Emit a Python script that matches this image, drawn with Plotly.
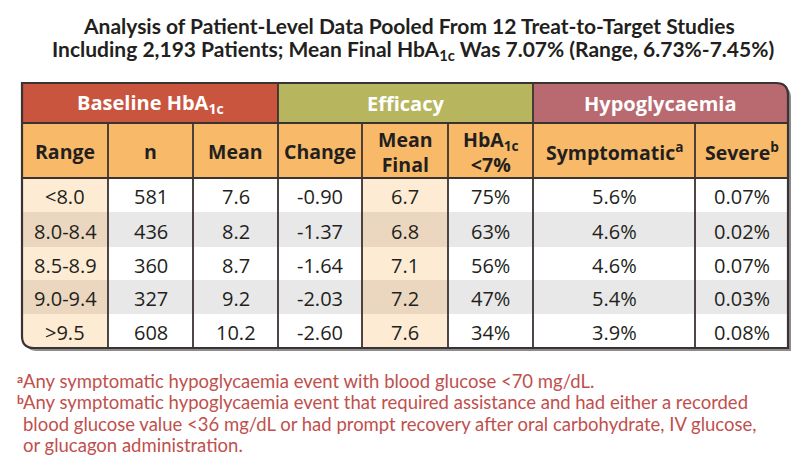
import plotly.graph_objects as go

# ---------------- data ----------------
title_lines = ["Analysis of Patient-Level Data Pooled From 12 Treat-to-Target Studies",
               "Including 2,193 Patients; Mean Final HbA<sub>1c</sub> Was 7.07% (Range, 6.73%-7.45%)"]
groups = ["Baseline HbA<sub>1c</sub>", "Efficacy", "Hypoglycaemia"]
columns = ["Range", "n", "Mean", "Change", "Mean<br>Final", "HbA<sub>1c</sub><br><7%",
           "Symptomatic<sup>a</sup>", "Severe<sup>b</sup>"]
ranges = ["<8.0", "8.0-8.4", "8.5-8.9", "9.0-9.4", ">9.5"]
n_patients = [581, 436, 360, 327, 608]
baseline_mean = [7.6, 8.2, 8.7, 9.2, 10.2]
change = [-0.90, -1.37, -1.64, -2.03, -2.60]
mean_final = [6.7, 6.8, 7.1, 7.2, 7.6]
pct_below7 = [75, 63, 56, 47, 34]
symptomatic = [5.6, 4.6, 4.6, 5.4, 3.9]
severe = [0.07, 0.02, 0.07, 0.03, 0.08]
footnotes = [
    ("a", ["Any symptomatic hypoglycaemia event with blood glucose <70 mg/dL."]),
    ("b", ["Any symptomatic hypoglycaemia event that required assistance and had either a recorded",
           "blood glucose value <36 mg/dL or had prompt recovery after oral carbohydrate, IV glucose,",
           "or glucagon administration."]),
]

# ---------------- layout geometry ----------------
W, H = 802, 473
col_x = [22, 108, 193, 278, 362, 448, 533, 695, 788]
group_x = [22, 278, 533, 788]
y_top, y_grp, y_hdr = 83, 123, 178
row_y = [178, 212, 247, 280, 314, 348]
R = 12

group_colors = ["#C9553F", "#B8B55F", "#B86A70"]
hdr_fill = "#F8BA68"
line_col = "#3b3232"
txt_col = "#231f20"
hdr_font = "Open Sans"
body_font = "Open Sans"
title_font = "Lato"
fn_font = "Lato"

cells = [
    [str(v) for v in ranges],
    [str(v) for v in n_patients],
    [f"{v:.1f}" for v in baseline_mean],
    [f"{v:.2f}" for v in change],
    [f"{v:.1f}" for v in mean_final],
    [f"{v}%" for v in pct_below7],
    [f"{v:.1f}%" for v in symptomatic],
    [f"{v:.2f}%" for v in severe],
]

shapes = []
ann = []

def path(d, fill=None, lc=None, lw=0):
    s = dict(type="path", xref="x", yref="y", path=d, line=dict(width=lw, color=lc or "rgba(0,0,0,0)"))
    if fill:
        s["fillcolor"] = fill
    shapes.append(s)

x0, x1, y1 = col_x[0], col_x[-1], row_y[-1]
def outline(dx=0, dy=0):
    a, b, t, bt = x0 + dx, x1 + dx, y_top + dy, y1 + dy
    return (f"M {a},{t} L {b-R},{t} Q {b},{t} {b},{t+R} L {b},{bt} "
            f"L {a+R},{bt} Q {a},{bt} {a},{bt-R} Z")

path(outline(3, 3), fill="#8c8c8c")
path(outline(), fill="white")

# group header fills
for i, g in enumerate(groups):
    gx0, gx1 = group_x[i], group_x[i + 1]
    if i == len(groups) - 1:
        path(f"M {gx0},{y_top} L {gx1-R},{y_top} Q {gx1},{y_top} {gx1},{y_top+R} L {gx1},{y_grp} L {gx0},{y_grp} Z",
             fill=group_colors[i])
    else:
        path(f"M {gx0},{y_top} L {gx1},{y_top} L {gx1},{y_grp} L {gx0},{y_grp} Z", fill=group_colors[i])
    ann.append(dict(x=(gx0 + gx1) / 2, y=(y_top + y_grp) / 2, text=f"<b>{g}</b>",
                    font=dict(family=hdr_font, size=20, color="white")))

# column header fill
path(f"M {x0},{y_grp} L {x1},{y_grp} L {x1},{y_hdr} L {x0},{y_hdr} Z", fill=hdr_fill)
for j, c in enumerate(columns):
    ann.append(dict(x=(col_x[j] + col_x[j + 1]) / 2, y=(y_grp + y_hdr) / 2 + 1, text=f"<b>{c}</b>",
                    font=dict(family=hdr_font, size=19.5, color=txt_col)))

# body cells
peach = ["#FDEBD4", "#EBD7BF"]
grey = ["#FFFFFF", "#E8E8E8"]
for r in range(len(ranges)):
    ya, yb = row_y[r], row_y[r + 1]
    for j in range(len(columns)):
        xa, xb = col_x[j], col_x[j + 1]
        fill = (peach if j in (0, 4) else grey)[r % 2]
        if j == 0 and r == len(ranges) - 1:
            path(f"M {xa},{ya} L {xb},{ya} L {xb},{yb} L {xa+R},{yb} Q {xa},{yb} {xa},{yb-R} Z", fill=fill)
        else:
            path(f"M {xa},{ya} L {xb},{ya} L {xb},{yb} L {xa},{yb} Z", fill=fill)
        ann.append(dict(x=(xa + xb) / 2, y=(ya + yb) / 2 + 1.5, text=cells[j][r],
                        font=dict(family=body_font, size=20, color=txt_col)))

# grid lines
for y in (y_grp, y_hdr):
    shapes.append(dict(type="line", xref="x", yref="y", x0=x0, x1=x1, y0=y, y1=y,
                       line=dict(color=line_col, width=1.8)))
for x in col_x[1:-1]:
    ystart = y_top if x in group_x else y_grp
    shapes.append(dict(type="line", xref="x", yref="y", x0=x, x1=x, y0=ystart, y1=y1,
                       line=dict(color=line_col, width=1.8)))
path(outline(), lc=line_col, lw=2.2)

# title
title_y = [25, 50]
title_cx = [409, 413]
for k, t in enumerate(title_lines):
    ann.append(dict(x=title_cx[k], y=title_y[k], text=f"<b>{t}</b>",
                    font=dict(family=title_font, size=21, color=txt_col)))

# footnotes
fn_col = "#C0504D"
fy = 381
for mark, lines in footnotes:
    ann.append(dict(x=15, y=fy - 3, text=f"<b>{mark}</b>", xanchor="left", yanchor="middle",
                    font=dict(family=fn_font, size=12, color=fn_col)))
    for ln in lines:
        ann.append(dict(x=21, y=fy, text=ln, xanchor="left", yanchor="middle", align="left",
                        font=dict(family=fn_font, size=18.5, color=fn_col)))
        fy += 21.3

for a in ann:
    a.setdefault("xref", "x")
    a.setdefault("yref", "y")
    a.setdefault("showarrow", False)

fig = go.Figure()
fig.update_layout(
    width=W, height=H, margin=dict(l=0, r=0, t=0, b=0),
    paper_bgcolor="white", plot_bgcolor="white",
    xaxis=dict(range=[0, W], visible=False, fixedrange=True),
    yaxis=dict(range=[H, 0], visible=False, fixedrange=True),
    shapes=shapes, annotations=ann, showlegend=False,
)
fig.write_html("out.html", config={"displayModeBar": False},
               post_script="document.body.style.margin='0';document.body.style.padding='0';"
                           "document.body.style.overflow='hidden';")
